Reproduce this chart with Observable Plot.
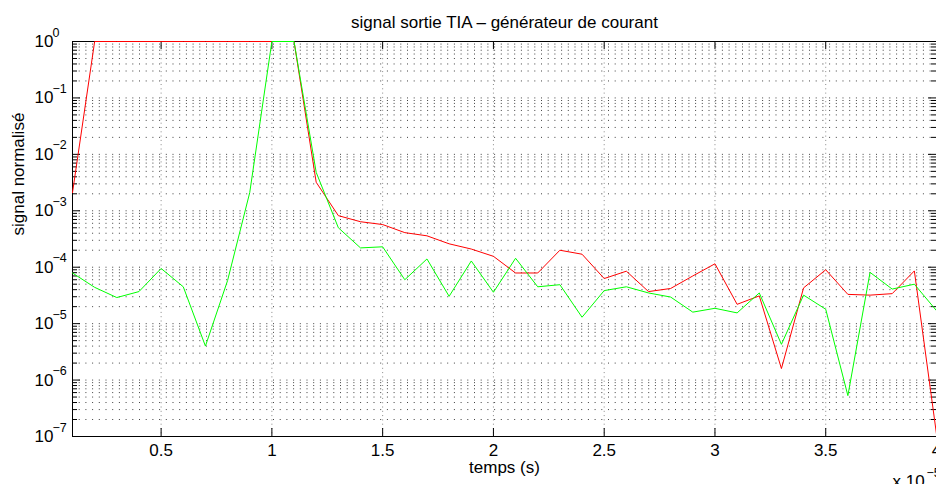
<!DOCTYPE html>
<html>
<head>
<meta charset="utf-8">
<script src="https://cdn.jsdelivr.net/npm/d3@7"></script>
<script src="https://cdn.jsdelivr.net/npm/@observablehq/plot@0.6"></script>
<style>
  html, body { margin: 0; padding: 0; background: #fff; }
  svg { display: block; }
</style>
</head>
<body>
<div id="chart"></div>
<script>
// time in units of 1e-5 s
const time = [0.1,0.2,0.3,0.4,0.5,0.6,0.7,0.8,0.9,1.0,1.1,1.2,1.3,1.4,1.5,1.6,1.7,1.8,1.9,2.0,
              2.1,2.2,2.3,2.4,2.5,2.6,2.7,2.8,2.9,3.0,3.1,3.2,3.3,3.4,3.5,3.6,3.7,3.8,3.9,4.0];
const redSignal = [2.1e-3,1,1,1,1,1,1,1,1,1,1,3.2e-3,8.2e-4,6.4e-4,5.7e-4,4.1e-4,3.6e-4,2.6e-4,2.1e-4,1.56e-4,
                   7.9e-5,7.9e-5,2.0e-4,1.7e-4,6.3e-5,8.5e-5,3.7e-5,4.2e-5,7.0e-5,1.15e-4,2.2e-5,3.1e-5,1.6e-6,4.3e-5,9.0e-5,3.3e-5,3.2e-5,3.4e-5,8.6e-5,1.1e-7];
const greenSignal = [7.9e-5,4.4e-5,2.9e-5,3.7e-5,9.5e-5,4.5e-5,4.0e-6,5.8e-5,2.1e-3,1,1,4.8e-3,5.0e-4,2.2e-4,2.3e-4,6.0e-5,1.4e-4,3.05e-5,1.29e-4,3.6e-5,
                     1.44e-4,4.5e-5,4.9e-5,1.3e-5,3.85e-5,4.5e-5,3.5e-5,2.96e-5,1.6e-5,1.87e-5,1.55e-5,3.5e-5,4.3e-6,3.2e-5,1.8e-5,5.3e-7,8.1e-5,4.1e-5,5.0e-5,1.7e-5];
const xTicks = [0.5,1,1.5,2,2.5,3,3.5,4];
const xTickLabels = ["0.5","1","1.5","2","2.5","3","3.5","4"];
const yDecades = [1,1e-1,1e-2,1e-3,1e-4,1e-5,1e-6,1e-7];
const yExponents = ["0","−1","−2","−3","−4","−5","−6","−7"];
const titleText = "signal sortie TIA – générateur de courant";
const xLabelText = "temps (s)";
const yLabelText = "signal normalisé";

const rows = time.map((t, i) => ({t, red: redSignal[i], green: greenSignal[i]}));
const yMinor = [];
for (let k = 1; k < yDecades.length; k++) for (let m = 2; m <= 9; m++) yMinor.push(yDecades[k] * m);

const W = 936, H = 484, mL = 72, mR = 0, mT = 41, mB = 48;
const fw = W - mL - mR, fh = H - mT - mB;
const font = "'Liberation Sans', Arial, Helvetica, sans-serif";

const chart = Plot.plot({
  width: W, height: H,
  marginLeft: mL, marginRight: mR, marginTop: mT, marginBottom: mB,
  style: {fontFamily: font, fontSize: "17px", background: "#fff", color: "#000"},
  x: {domain: [0.1, 4], label: null},
  y: {type: "log", domain: [1e-7, 1], label: null},
  marks: [
    // grid
    Plot.ruleY([...yDecades, ...yMinor], {stroke: "#000", strokeOpacity: 0.75, strokeDasharray: "1,5.7"}),
    Plot.ruleX(xTicks.slice(0, -1), {stroke: "#888", strokeDasharray: "1,3.3"}),
    // ticks (inside)
    Plot.ruleY(yDecades, {stroke: "#000", insetRight: fw - 8}),
    Plot.ruleY(yMinor, {stroke: "#000", insetRight: fw - 5}),
    Plot.ruleY(yDecades, {stroke: "#000", insetLeft: fw - 8}),
    Plot.ruleY(yMinor, {stroke: "#000", insetLeft: fw - 5}),
    Plot.ruleX(xTicks, {stroke: "#000", insetTop: fh - 8}),
    Plot.ruleX(xTicks, {stroke: "#000", insetBottom: fh - 8}),
    Plot.frame({stroke: "#000"}),
    // axes
    Plot.axisX({ticks: xTicks, tickFormat: (d) => xTickLabels[xTicks.indexOf(d)], tickSize: 0, tickPadding: 7, fontSize: 17, label: null}),
    Plot.axisY({ticks: yDecades, tickFormat: () => "10", tickSize: 0, tickPadding: 19, fontSize: 17, label: null}),
    Plot.axisY({ticks: yDecades, tickFormat: (d) => yExponents[yDecades.indexOf(d)], tickSize: 0, tickPadding: 20, textAnchor: "start", dy: -9, fontSize: 12.5, label: null}),
    // data
    Plot.line(rows, {x: "t", y: "red", stroke: "#ff0000", strokeWidth: 1, clip: true}),
    Plot.line(rows, {x: "t", y: "green", stroke: "#00ff00", strokeWidth: 1, clip: true}),
    // texts
    Plot.text([titleText], {frameAnchor: "top", lineAnchor: "bottom", dy: -14, fontSize: 17}),
    Plot.text([xLabelText], {frameAnchor: "bottom", lineAnchor: "bottom", dy: 36, fontSize: 17}),
    Plot.text([yLabelText], {frameAnchor: "left", rotate: -90, dx: -53.5, dy: -3.5, fontSize: 17}),
    Plot.text(["x 10"], {frameAnchor: "bottom-right", textAnchor: "start", lineAnchor: "bottom", dx: -44, dy: 50, fontSize: 17}),
    Plot.text(["−5"], {frameAnchor: "bottom-right", textAnchor: "start", lineAnchor: "bottom", dx: -10, dy: 40, fontSize: 12.5})
  ]
});
document.getElementById("chart").appendChild(chart);
</script>
</body>
</html>
